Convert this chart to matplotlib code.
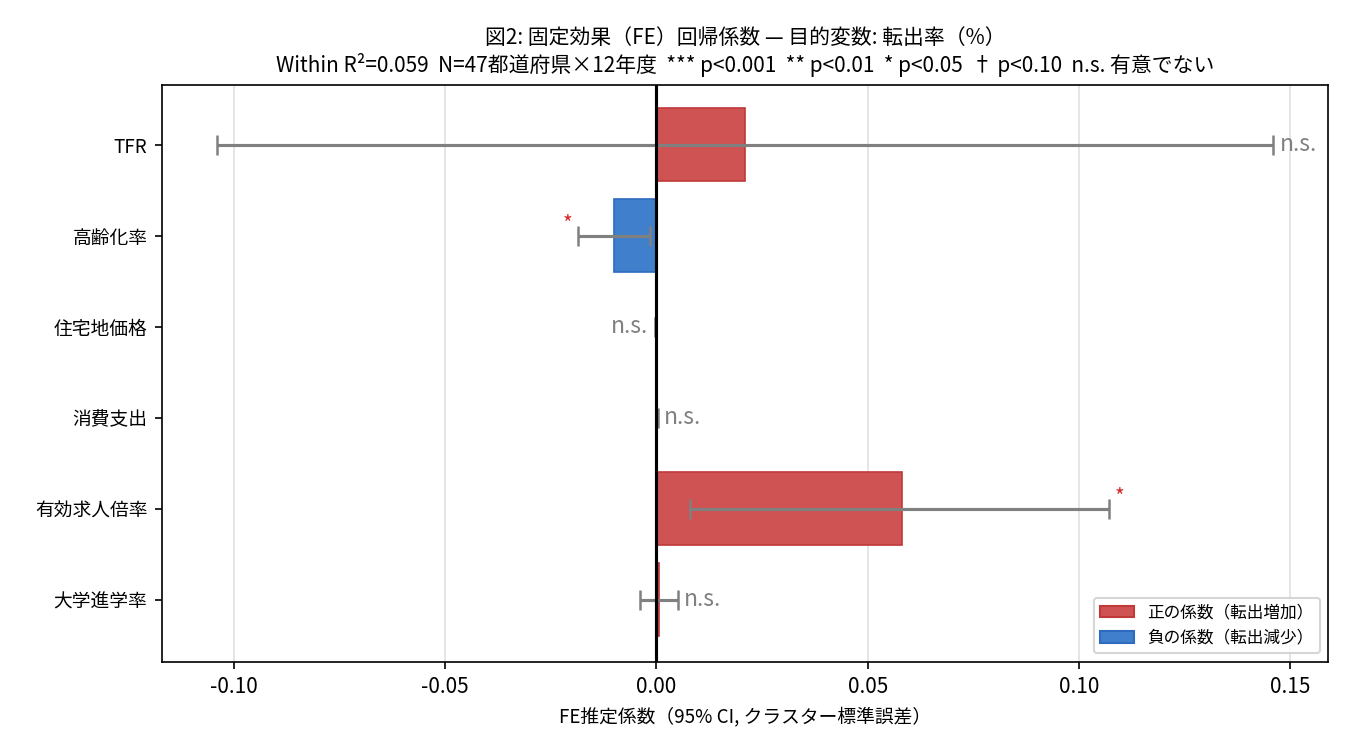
import matplotlib
matplotlib.use("Agg")
import matplotlib.pyplot as plt
from matplotlib.patches import Patch

plt.rcParams['font.family'] = ['Noto Sans CJK JP', 'DejaVu Sans']

labels = ["TFR", "高齢化率", "住宅地価格", "消費支出", "有効求人倍率", "大学進学率"]
coef = [0.021, -0.010, -0.0002, 0.0001, 0.058, 0.0005]
ci_low = [-0.104, -0.0185, -0.0004, -0.0001, 0.008, -0.0040]
ci_high = [0.146, -0.0015, 0.0000, 0.0003, 0.107, 0.0050]
sig = ["n.s.", "*", "n.s.", "n.s.", "*", "n.s."]

fig, ax = plt.subplots(figsize=(9, 5), dpi=150)
fig.subplots_adjust(left=0.12, right=0.984, top=0.887, bottom=0.118)
y = list(range(len(labels)))
colors = ["#d05353" if c > 0 else "#3f7fcc" for c in coef]
edges = ["#c03a3a" if c > 0 else "#2e6bbf" for c in coef]
ax.barh(y, coef, height=0.8, color=colors, edgecolor=edges, linewidth=0.8, zorder=2)
err = [[c - l for c, l in zip(coef, ci_low)], [h - c for c, h in zip(coef, ci_high)]]
ax.errorbar(coef, y, xerr=err, fmt='none', ecolor='gray', elinewidth=1.5, capsize=5, capthick=1.2, zorder=3)
ax.axvline(0, color='black', linewidth=1.5, zorder=4)
for i, (c, lo, hi, s) in enumerate(zip(coef, ci_low, ci_high, sig)):
    if s == "n.s.":
        kw = dict(color='gray', fontsize=11, va='center')
    else:
        kw = dict(color='#d62728', fontsize=10, va='bottom')
    if c >= 0:
        ax.text(hi + 0.0015, i, s, ha='left', **kw)
    else:
        ax.text(lo - 0.0015, i, s, ha='right', **kw)
ax.set_yticks(y)
ax.set_yticklabels(labels, fontsize=9)
ax.set_ylim(5.68, -0.66)
ax.set_xlim(-0.117, 0.159)
ax.set_xticks([-0.10, -0.05, 0.0, 0.05, 0.10, 0.15])
ax.set_xticklabels(["-0.10", "-0.05", "0.00", "0.05", "0.10", "0.15"], fontsize=10)
ax.grid(axis='x', color='#e0e0e0', linewidth=0.8, zorder=0)
ax.set_axisbelow(True)
ax.set_xlabel("FE推定係数（95% CI, クラスター標準誤差）", fontsize=9)
ax.set_title("図2: 固定効果（FE）回帰係数 — 目的変数: 転出率（%）\nWithin R²=0.059  N=47都道府県×12年度  *** p<0.001  ** p<0.01  * p<0.05  † p<0.10  n.s. 有意でない", fontsize=10)
handles = [Patch(facecolor="#d05353", edgecolor="#c03a3a", label="正の係数（転出増加）"),
           Patch(facecolor="#3f7fcc", edgecolor="#2e6bbf", label="負の係数（転出減少）")]
ax.legend(handles=handles, loc='lower right', fontsize=8)
fig.savefig("out.png", dpi=150)
